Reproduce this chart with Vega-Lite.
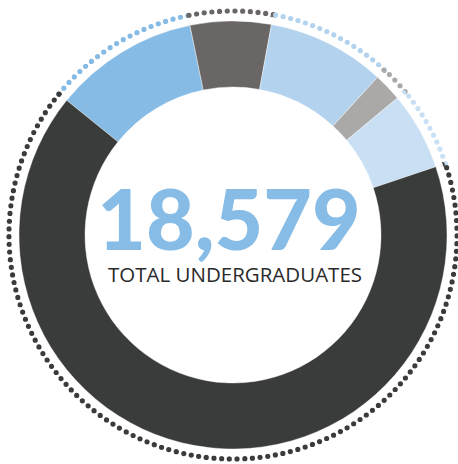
{
  "$schema": "https://vega.github.io/schema/vega-lite/v6.json",
  "autosize": {"type": "fit", "contains": "padding"},
  "width": 458,
  "height": 464,
  "padding": {"left": 8, "top": 6, "right": 0, "bottom": 0},
  "background": "white",
  "view": {"stroke": null},
  "data": {
    "values": [
      {"group": "B", "rank": 1, "students": 2033},
      {"group": "C", "rank": 2, "students": 1133},
      {"group": "D", "rank": 3, "students": 1659},
      {"group": "E", "rank": 4, "students": 397},
      {"group": "F", "rank": 5, "students": 1094},
      {"group": "A", "rank": 6, "students": 12263}
    ]
  },
  "encoding": {
    "theta": {"field": "students", "type": "quantitative", "stack": true, "scale": {"range": [-0.890, 5.393]}},
    "order": {"field": "rank", "type": "quantitative"}
  },
  "layer": [
    {
      "mark": {"type": "arc", "filled": false, "outerRadius": 224, "innerRadius": 195, "strokeWidth": 5.2, "strokeDash": [0, 7.7], "strokeCap": "round"},
      "encoding": {
        "color": {"field": "group", "type": "nominal", "legend": null,
          "scale": {"domain": ["A", "B", "C", "D", "E", "F"], "range": ["#3a3c3c", "#86bbe5", "#6a6665", "#b2d2ee", "#aba8a8", "#c9dff4"]}}
      }
    },
    {
      "mark": {"type": "arc", "outerRadius": 221, "innerRadius": 190, "fill": "white", "stroke": "white", "strokeWidth": 0.5}
    },
    {
      "mark": {"type": "arc", "outerRadius": 214, "innerRadius": 148, "stroke": "white", "strokeWidth": 0.4},
      "encoding": {
        "color": {"field": "group", "type": "nominal", "legend": null}
      }
    },
    {
      "data": {"values": [{"label": "18,579"}]},
      "mark": {"type": "text", "font": "Lato", "fontWeight": 900, "fontSize": 84, "color": "#87bce6", "align": "center", "baseline": "alphabetic", "dx": -4, "dy": 15},
      "encoding": {"text": {"field": "label"}, "theta": null, "order": null}
    },
    {
      "data": {"values": [{"label": "TOTAL UNDERGRADUATES"}]},
      "mark": {"type": "text", "font": "Open Sans", "fontWeight": 400, "fontSize": 20.5, "color": "#2a2a2a", "align": "center", "baseline": "alphabetic", "dx": 2, "dy": 47},
      "encoding": {"text": {"field": "label"}, "theta": null, "order": null}
    }
  ]
}
